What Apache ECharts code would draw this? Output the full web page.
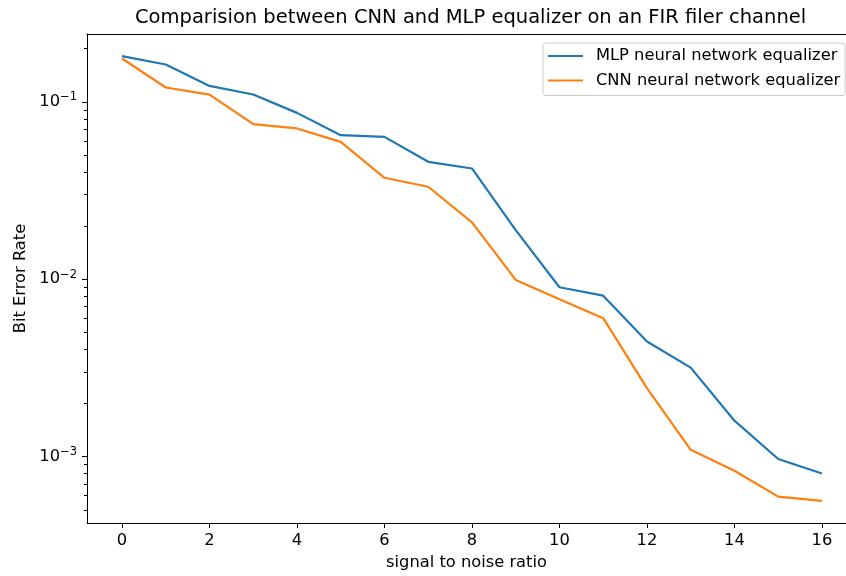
<!DOCTYPE html>
<html>
<head>
<meta charset="utf-8">
<script src="https://cdn.jsdelivr.net/npm/echarts@6/dist/echarts.min.js"></script>
<style>
    html, body { margin: 0; padding: 0; background: #fff; }
    #chart { width: 846px; height: 576px; }
</style>
</head>
<body>
<div id="chart"></div>
<script>
    // 信噪比
    var snr = [0, 1, 2, 3, 4, 5, 6, 7, 8, 9, 10, 11, 12, 13, 14, 15, 16];
    var mlpBer = [0.181, 0.1625, 0.123, 0.110, 0.0867, 0.0649, 0.0635, 0.0459, 0.0421, 0.0189,
        0.0090, 0.00807, 0.00445, 0.00317, 0.00159, 0.000967, 0.00080];
    var cnnBer = [0.1756, 0.1205, 0.110, 0.0749, 0.0708, 0.0595, 0.0373, 0.0332, 0.0209, 0.0099,
        0.0077, 0.00602, 0.00243, 0.00109, 0.00083, 0.000593, 0.000561];
    var xTicks = [0, 2, 4, 6, 8, 10, 12, 14, 16];
    var yMajor = [0.001, 0.01, 0.1];
    var yMinor = [0.0005, 0.0006, 0.0007, 0.0008, 0.0009,
        0.002, 0.003, 0.004, 0.005, 0.006, 0.007, 0.008, 0.009,
        0.02, 0.03, 0.04, 0.05, 0.06, 0.07, 0.08, 0.09, 0.2];

    function pairs(xs, ys) {
        var res = [];
        for (var i = 0; i < xs.length; i++) {
            res.push([xs[i], ys[i]]);
        }
        return res;
    }

    var font = 'DejaVu Sans';
    var chart = echarts.init(document.getElementById('chart'));

    chart.setOption({
        animation: false,
        textStyle: { fontFamily: font },
        title: {
            text: 'Comparision between CNN and MLP equalizer on an FIR filer channel',
            left: 135,
            top: 8,
            padding: 0,
            textStyle: { fontFamily: font, fontSize: 19.5, fontWeight: 'normal', color: '#000' }
        },
        legend: {
            orient: 'vertical',
            left: 543,
            top: 43,
            padding: [4, 5, 6, 5],
            itemGap: 6.5,
            itemWidth: 35,
            itemHeight: 2,
            icon: 'rect',
            borderColor: '#cccccc',
            borderWidth: 1,
            borderRadius: 3,
            backgroundColor: 'rgba(255,255,255,0.8)',
            textStyle: { fontFamily: font, fontSize: 16.3, color: '#000', lineHeight: 18, padding: [0, 0, 0, 8] },
            data: ['MLP neural network equalizer', 'CNN neural network equalizer']
        },
        grid: {
            left: 87,
            top: 34,
            right: 0,
            height: 490,
            show: false,
            containLabel: false
        },
        xAxis: [
            {
                type: 'value',
                min: -0.8,
                max: 16.55,
                name: 'signal to noise ratio',
                nameLocation: 'middle',
                nameGap: 32,
                nameTextStyle: { fontFamily: font, fontSize: 16.3, color: '#000' },
                axisLine: { onZero: false, lineStyle: { color: '#000', width: 1 } },
                axisTick: { show: true, length: 5, lineStyle: { color: '#000' }, customValues: xTicks },
                axisLabel: { fontFamily: font, fontSize: 16.3, color: '#000', margin: 10, customValues: xTicks },
                splitLine: { show: false }
            },
            {
                // 上边框
                type: 'value',
                position: 'top',
                min: -0.8,
                max: 16.55,
                axisLine: { onZero: false, lineStyle: { color: '#000', width: 1 } },
                axisTick: { show: false },
                axisLabel: { show: false },
                splitLine: { show: false }
            }
        ],
        yAxis: [
            {
                type: 'log',
                min: 0.000421,
                max: 0.2415,
                name: 'Bit Error Rate',
                nameLocation: 'middle',
                nameRotate: 90,
                nameGap: 57,
                nameTextStyle: { fontFamily: font, fontSize: 16.3, color: '#000' },
                axisLine: { show: true, onZero: false, lineStyle: { color: '#000', width: 1 } },
                axisTick: { show: true, length: 5, lineStyle: { color: '#000' }, customValues: yMajor },
                axisLabel: {
                    margin: 10,
                    customValues: yMajor,
                    formatter: function (v) {
                        var p = Math.round(Math.log10(v));
                        return '{b|10}{s|\u2212' + Math.abs(p) + '}';
                    },
                    rich: {
                        b: { fontFamily: font, fontSize: 16.3, color: '#000' },
                        s: { fontFamily: font, fontSize: 11.5, color: '#000', padding: [0, 0, 9, 0] }
                    }
                },
                splitLine: { show: false }
            },
            {
                // 次刻度
                type: 'log',
                min: 0.000421,
                max: 0.2415,
                position: 'left',
                axisLine: { show: false, onZero: false },
                axisTick: { show: true, length: 3, lineStyle: { color: '#000' }, customValues: yMinor },
                axisLabel: { show: false },
                splitLine: { show: false }
            }
        ],
        series: [
            {
                name: 'MLP neural network equalizer',
                type: 'line',
                yAxisIndex: 0,
                showSymbol: false,
                symbol: 'none',
                color: '#1f77b4',
                lineStyle: { width: 2.2, color: '#1f77b4' },
                data: pairs(snr, mlpBer)
            },
            {
                name: 'CNN neural network equalizer',
                type: 'line',
                yAxisIndex: 0,
                showSymbol: false,
                symbol: 'none',
                color: '#ff7f0e',
                lineStyle: { width: 2.2, color: '#ff7f0e' },
                data: pairs(snr, cnnBer)
            }
        ]
    });
</script>
</body>
</html>
